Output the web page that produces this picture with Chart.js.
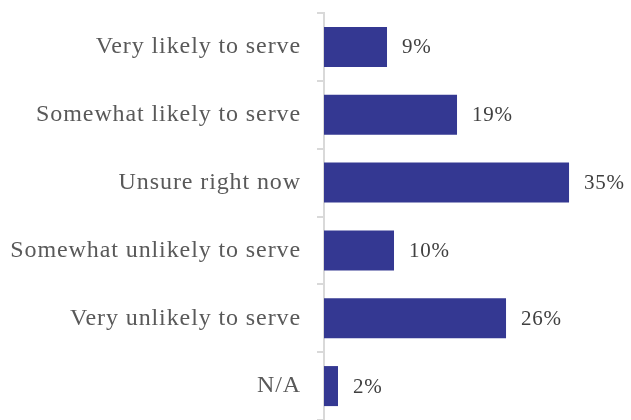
<!DOCTYPE html>
<html>
<head>
<meta charset="utf-8">
<script src="https://cdn.jsdelivr.net/npm/chart.js@4"></script>
<style>
  html, body { margin: 0; padding: 0; background: #fff; overflow: hidden; }
  #wrap { width: 631px; height: 420px; position: relative; }
</style>
</head>
<body>
<div id="wrap"><canvas id="chart"></canvas></div>
<script>
const categories = [
  'Very likely to serve',
  'Somewhat likely to serve',
  'Unsure right now',
  'Somewhat unlikely to serve',
  'Very unlikely to serve',
  'N/A'
];
const shares = [9, 19, 35, 10, 26, 2];

const FONT = '"Liberation Serif", "DejaVu Serif", serif';

// a bit of tracking so the serif labels sit wider
const tracking = {
  id: 'tracking',
  beforeDraw(chart) {
    chart.ctx.letterSpacing = '0.9px';
  }
};

// writes "n%" just past the end of each bar
const valueLabels = {
  id: 'valueLabels',
  afterDatasetsDraw(chart) {
    const ctx = chart.ctx;
    const meta = chart.getDatasetMeta(0);
    ctx.save();
    ctx.letterSpacing = '0.7px';
    ctx.font = '21px ' + FONT;
    ctx.fillStyle = '#404040';
    ctx.textAlign = 'left';
    ctx.textBaseline = 'middle';
    meta.data.forEach((bar, i) => {
      ctx.fillText(shares[i] + '%', bar.x + 15, bar.y + 1);
    });
    ctx.restore();
  }
};

new Chart(document.getElementById('chart'), {
  type: 'bar',
  data: {
    labels: categories,
    datasets: [{
      data: shares,
      backgroundColor: '#343892',
      barPercentage: 0.59,
      categoryPercentage: 1.0
    }]
  },
  options: {
    indexAxis: 'y',
    responsive: true,
    maintainAspectRatio: false,
    animation: false,
    layout: { padding: { top: 13, right: 0, bottom: 0, left: 0 } },
    plugins: { legend: { display: false }, tooltip: { enabled: false } },
    scales: {
      x: {
        display: false,
        min: 0,
        max: 43.85
      },
      y: {
        grid: {
          drawOnChartArea: false,
          drawTicks: true,
          tickLength: 7,
          color: '#d9d9d9',
          lineWidth: 2
        },
        border: { color: '#d9d9d9', width: 2 },
        ticks: {
          color: '#595959',
          font: { family: FONT, size: 24 },
          padding: 16
        },
        afterFit(scale) {
          scale.width = 324;
          scale.paddingTop = 0;
          scale.paddingBottom = 0;
        }
      }
    }
  },
  plugins: [tracking, valueLabels]
});
</script>
</body>
</html>
